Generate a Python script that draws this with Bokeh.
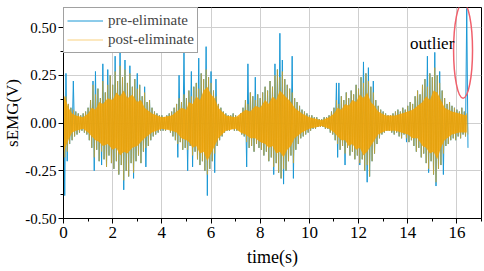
from bokeh.plotting import figure
from bokeh.models import (Range1d, FixedTicker, NumeralTickFormatter, Legend, LegendItem, Label)
from bokeh.embed import file_html
from bokeh.resources import INLINE

# ---------------- data ----------------
STEP = 0.1  # seconds per envelope bin

# post-eliminate signal: upper / lower extent per 0.1 s bin, t = 0.0 ... 16.4
post_hi = [
    0.17, 0.14, 0.10, 0.08, 0.07, 0.06, 0.05, 0.04, 0.05, 0.06,
    0.08, 0.12, 0.20, 0.15, 0.18, 0.13, 0.22, 0.16, 0.20, 0.25,
    0.20, 0.27, 0.22, 0.30, 0.24, 0.28, 0.21, 0.26, 0.19, 0.23,
    0.18, 0.20, 0.14, 0.16, 0.11, 0.12, 0.08, 0.06, 0.05, 0.04,
    0.04, 0.03, 0.04, 0.05, 0.06, 0.08, 0.10, 0.13, 0.11, 0.15,
    0.13, 0.17, 0.14, 0.19, 0.21, 0.18, 0.26, 0.23, 0.28, 0.24,
    0.21, 0.17, 0.14, 0.10, 0.08, 0.06, 0.05, 0.04, 0.04, 0.05,
    0.04, 0.03, 0.05, 0.08, 0.12, 0.10, 0.16, 0.14, 0.12, 0.15,
    0.13, 0.16, 0.19, 0.17, 0.22, 0.19, 0.25, 0.28, 0.24, 0.27,
    0.23, 0.20, 0.18, 0.16, 0.13, 0.11, 0.09, 0.07, 0.06, 0.05,
    0.04, 0.04, 0.03, 0.03, 0.02, 0.02, 0.03, 0.03, 0.04, 0.06,
    0.08, 0.12, 0.10, 0.14, 0.12, 0.16, 0.13, 0.17, 0.15, 0.20,
    0.18, 0.24, 0.21, 0.26, 0.22, 0.19, 0.16, 0.12, 0.09, 0.07,
    0.06, 0.05, 0.04, 0.04, 0.05, 0.06, 0.07, 0.06, 0.08, 0.07,
    0.09, 0.11, 0.10, 0.14, 0.17, 0.15, 0.20, 0.23, 0.19, 0.26,
    0.24, 0.29, 0.25, 0.21, 0.17, 0.13, 0.10, 0.11, 0.09, 0.08,
    0.07, 0.06, 0.08, 0.06, 0.05,
]
post_lo = [
    -0.18, -0.15, -0.11, -0.09, -0.07, -0.06, -0.05, -0.04, -0.05, -0.06,
    -0.09, -0.13, -0.18, -0.14, -0.20, -0.15, -0.19, -0.23, -0.17, -0.21,
    -0.24, -0.20, -0.27, -0.22, -0.30, -0.25, -0.28, -0.21, -0.26, -0.20,
    -0.17, -0.21, -0.15, -0.13, -0.12, -0.09, -0.07, -0.06, -0.05, -0.04,
    -0.04, -0.04, -0.03, -0.05, -0.07, -0.09, -0.11, -0.10, -0.14, -0.13,
    -0.14, -0.12, -0.17, -0.15, -0.19, -0.22, -0.20, -0.25, -0.27, -0.24,
    -0.20, -0.16, -0.12, -0.09, -0.07, -0.05, -0.04, -0.04, -0.03, -0.04,
    -0.04, -0.04, -0.06, -0.07, -0.10, -0.13, -0.12, -0.15, -0.11, -0.13,
    -0.14, -0.17, -0.15, -0.20, -0.18, -0.23, -0.21, -0.26, -0.29, -0.24,
    -0.25, -0.20, -0.17, -0.21, -0.14, -0.11, -0.08, -0.07, -0.06, -0.05,
    -0.04, -0.03, -0.03, -0.02, -0.02, -0.02, -0.03, -0.03, -0.05, -0.06,
    -0.09, -0.11, -0.14, -0.12, -0.16, -0.13, -0.17, -0.15, -0.19, -0.17,
    -0.21, -0.19, -0.25, -0.22, -0.28, -0.20, -0.16, -0.11, -0.08, -0.06,
    -0.05, -0.04, -0.04, -0.05, -0.06, -0.05, -0.07, -0.08, -0.06, -0.08,
    -0.10, -0.09, -0.12, -0.15, -0.13, -0.18, -0.16, -0.21, -0.24, -0.20,
    -0.27, -0.31, -0.24, -0.22, -0.16, -0.12, -0.11, -0.09, -0.08, -0.09,
    -0.07, -0.08, -0.06, -0.07, -0.06,
]

# dense (solid) core of the post-eliminate signal
core_t = [0.0, 0.1, 0.2, 0.35, 0.5, 0.8, 1.0, 1.15, 1.3, 1.45, 1.6, 1.8, 2.0, 2.15, 2.3,
          2.45, 2.6, 2.8, 3.0, 3.15, 3.3, 3.6, 4.0, 4.4, 4.6, 4.8, 5.0, 5.1, 5.25, 5.4,
          5.55, 5.7, 5.85, 6.0, 6.15, 6.3, 6.6, 7.0, 7.2, 7.4, 7.6, 7.8, 8.0, 8.2, 8.35,
          8.5, 8.65, 8.8, 8.95, 9.1, 9.25, 9.4, 9.7, 10.0, 10.5, 10.8, 11.0, 11.15, 11.3,
          11.45, 11.6, 11.75, 11.9, 12.05, 12.2, 12.35, 12.5, 12.65, 12.8, 13.1, 13.5,
          14.0, 14.2, 14.4, 14.6, 14.75, 14.9, 15.05, 15.2, 15.35, 15.5, 15.8, 16.1, 16.4]
core_hi = [0.15, 0.12, 0.08, 0.05, 0.04, 0.03, 0.05, 0.08, 0.07, 0.11, 0.10, 0.13, 0.12,
           0.16, 0.14, 0.17, 0.13, 0.15, 0.11, 0.12, 0.08, 0.05, 0.03, 0.04, 0.06, 0.08,
           0.07, 0.11, 0.10, 0.14, 0.12, 0.17, 0.19, 0.15, 0.13, 0.08, 0.04, 0.03, 0.05,
           0.07, 0.06, 0.09, 0.08, 0.12, 0.10, 0.14, 0.12, 0.17, 0.15, 0.13, 0.11, 0.08,
           0.05, 0.03, 0.015, 0.03, 0.05, 0.08, 0.07, 0.10, 0.09, 0.12, 0.11, 0.15, 0.13,
           0.16, 0.11, 0.09, 0.06, 0.04, 0.04, 0.06, 0.07, 0.09, 0.11, 0.14, 0.12, 0.17,
           0.16, 0.12, 0.08, 0.06, 0.05, 0.04]
core_lo = [-0.16, -0.12, -0.09, -0.05, -0.04, -0.03, -0.05, -0.07, -0.09, -0.10, -0.12,
           -0.11, -0.14, -0.13, -0.17, -0.15, -0.16, -0.13, -0.12, -0.10, -0.08, -0.05,
           -0.03, -0.04, -0.05, -0.08, -0.09, -0.10, -0.13, -0.12, -0.16, -0.15, -0.20,
           -0.16, -0.12, -0.08, -0.04, -0.03, -0.05, -0.06, -0.08, -0.08, -0.10, -0.11,
           -0.13, -0.12, -0.16, -0.15, -0.18, -0.14, -0.12, -0.08, -0.05, -0.03, -0.015,
           -0.03, -0.05, -0.07, -0.09, -0.09, -0.12, -0.11, -0.14, -0.13, -0.17, -0.15,
           -0.12, -0.09, -0.06, -0.04, -0.04, -0.06, -0.08, -0.08, -0.12, -0.13, -0.16,
           -0.15, -0.19, -0.13, -0.09, -0.06, -0.05, -0.05]

# pre-eliminate signal = post signal plus the spikes that were eliminated
pre_spike_hi_t = [0.1, 0.4, 1.2, 1.3, 1.6, 1.8, 2.1, 2.3, 2.5, 2.7, 3.0, 3.3,
                  4.7, 4.9, 5.2, 5.5, 5.8, 6.0, 6.2, 7.5, 7.8, 8.6, 8.8, 8.9,
                  9.3, 11.1, 11.2, 12.2, 12.4, 12.6, 14.8, 15.1, 15.3, 16.4]
pre_spike_hi_v = [0.26, 0.22, 0.22, 0.27, 0.31, 0.28, 0.35, 0.38, 0.33, 0.30, 0.26, 0.19,
                  0.25, 0.37, 0.27, 0.34, 0.40, 0.27, 0.23, 0.31, 0.24, 0.31, 0.47, 0.33,
                  0.35, 0.21, 0.21, 0.32, 0.29, 0.22, 0.35, 0.37, 0.27, 0.60]
pre_spike_lo_t = [0.0, 0.1, 1.2, 1.5, 2.4, 2.6, 2.8, 3.3, 4.6, 5.0, 5.2, 5.8,
                  6.1, 7.4, 8.5, 8.9, 9.3, 11.1, 11.4, 12.0, 12.3, 13.9, 14.8, 15.1,
                  15.4, 16.4]
pre_spike_lo_v = [-0.38, -0.20, -0.25, -0.22, -0.35, -0.28, -0.29, -0.23, -0.18, -0.25, -0.23, -0.38,
                  -0.26, -0.23, -0.27, -0.32, -0.29, -0.18, -0.22, -0.22, -0.31, -0.10, -0.26, -0.33,
                  -0.27, -0.13]

series_names = ["pre-eliminate", "post-eliminate"]
x_ticks = [0, 2, 4, 6, 8, 10, 12, 14, 16]
y_ticks = [-0.50, -0.25, 0.00, 0.25, 0.50]
annotation_text = "outlier"

# ---------------- build series ----------------
t = [round(i * STEP, 2) for i in range(len(post_hi))]
pre_hi = list(post_hi)
pre_lo = list(post_lo)
for ts, v in zip(pre_spike_hi_t, pre_spike_hi_v):
    pre_hi[int(round(ts / STEP))] = v
for ts, v in zip(pre_spike_lo_t, pre_spike_lo_v):
    pre_lo[int(round(ts / STEP))] = v


def trace(hi, lo):
    xs, ys = [], []
    for ti, h, l in zip(t, hi, lo):
        xs += [ti, ti + STEP / 2]
        ys += [h, l]
    return xs, ys


pre_x, pre_y = trace(pre_hi, pre_lo)
post_x, post_y = trace(post_hi, post_lo)

FONT = "Liberation Serif"
BLUE = "#1b98d5"
ORANGE = "#f6a400"

p = figure(width=484, height=271, output_backend="svg", toolbar_location=None,
           x_range=Range1d(0, 17.0), y_range=Range1d(-0.5, 0.605),
           min_border_left=63, min_border_right=3, min_border_top=7, min_border_bottom=53)
p.outline_line_color = "black"
p.outline_line_width = 1
p.background_fill_color = "white"

r_pre = p.line(pre_x, pre_y, line_color=BLUE, line_width=1)
p.varea(x=core_t, y1=core_lo, y2=core_hi, fill_color=ORANGE, fill_alpha=0.85)
r_post = p.line(post_x, post_y, line_color=ORANGE, line_width=1, line_alpha=0.5)

# outlier annotation
outlier_i = max(range(len(pre_hi)), key=lambda i: pre_hi[i])
p.ellipse(x=[t[outlier_i] - 0.15], y=[(pre_hi[outlier_i] + 0.16) / 2], width=[0.77], height=[0.5],
          fill_alpha=0, line_color="#f0606c", line_width=1.5)
p.add_layout(Label(x=14.09, y=0.415, text=annotation_text, text_font=FONT,
                   text_font_size="17px", text_color="black", text_baseline="alphabetic"))

# axes
p.xaxis.ticker = FixedTicker(ticks=x_ticks, minor_ticks=[v + 1 for v in x_ticks])
p.yaxis.ticker = FixedTicker(ticks=y_ticks, minor_ticks=[v + 0.125 for v in y_ticks])
p.yaxis.formatter = NumeralTickFormatter(format="0.00")
p.xaxis.axis_label = "time(s)"
p.yaxis.axis_label = "sEMG(V)"
for ax in (p.xaxis, p.yaxis):
    ax.axis_label_text_font = FONT
    ax.axis_label_text_font_style = "normal"
    ax.major_label_text_font = FONT
    ax.major_label_text_color = "black"
    ax.axis_label_text_color = "black"
    ax.axis_line_color = "black"
    ax.major_tick_line_color = "black"
    ax.minor_tick_line_color = "black"
    ax.major_tick_out = 5
    ax.major_tick_in = 0
    ax.minor_tick_out = 3
    ax.minor_tick_in = 0
p.xaxis.axis_label_text_font_size = "18px"
p.yaxis.axis_label_text_font_size = "17px"
p.xaxis.major_label_text_font_size = "17px"
p.yaxis.major_label_text_font_size = "15px"
p.xaxis.major_label_standoff = 3
p.xaxis.axis_label_standoff = 6
p.yaxis.major_label_standoff = 2
p.yaxis.axis_label_standoff = 0

p.grid.grid_line_color = "#cfcfcf"
p.grid.grid_line_width = 1

legend = Legend(items=[LegendItem(label=series_names[0], renderers=[r_pre]),
                       LegendItem(label=series_names[1], renderers=[r_post])],
                location="top_left")
legend.label_text_font = FONT
legend.label_text_font_size = "15px"
legend.label_height = 19
legend.glyph_height = 19
legend.glyph_width = 36
legend.spacing = 0
legend.padding = 3
legend.margin = 0
legend.label_standoff = 5
legend.border_line_color = "#444444"
legend.border_line_width = 1
legend.background_fill_alpha = 1
p.add_layout(legend)

open("out.html", "w").write(file_html(p, INLINE))
